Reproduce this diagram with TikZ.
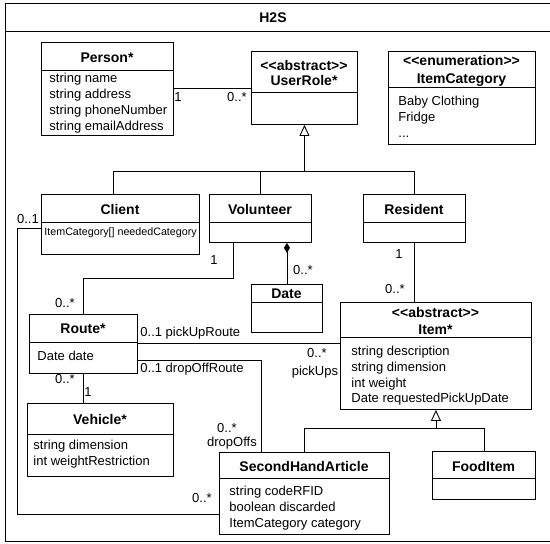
\documentclass[tikz,border=0pt]{standalone}
\usepackage{fontspec}
\setmainfont{Liberation Sans}
\usetikzlibrary{arrows.meta}
\begin{document}
\begin{tikzpicture}[x=1pt,y=-1pt,line width=0.9pt,font=\fontsize{13}{16}\selectfont]
	\tikzset{cls/.style 2 args={draw,anchor=north west,inner sep=0pt,minimum width=#1,minimum height=#2},
		title/.style={anchor=base,inner sep=0pt,font=\fontsize{14}{16}\selectfont\bfseries},
		attr/.style={anchor=base west,inner sep=0pt},
		mult/.style={inner sep=0pt},
		inherit/.style={-{Triangle[open,length=11pt,width=10pt]}},
		compose/.style={{Diamond[length=10pt,width=6pt]}-}}
	\useasboundingbox (0,0) rectangle (550,544);
	\node [cls={565pt}{538pt}]	(pkg) at (5,3)				{};
		\draw (pkg.west |- 0,31) -- (pkg.east |- 0,31);
		\node [title]	(pkgT)	at (273,22)					{H2S};
	\node [cls={132pt}{93pt}]	(person) at (41,42)			{};
		\draw (person.west |- 0,70) -- (person.east |- 0,70);
		\node [title]	(personT)	at (107,62)				{Person*};
		\node [attr]	(personA)	at (49,82)				{string name};
		\node [attr]	(personB)	at (49,98)				{string address};
		\node [attr]	(personC)	at (49,114)				{string phoneNumber};
		\node [attr]	(personD)	at (49,130)				{string emailAddress};
	\node [cls={106pt}{73pt}]	(userrole) at (251,51)		{};
		\draw (userrole.west |- 0,92) -- (userrole.east |- 0,92);
		\node [title]	(userroleS)	at (304,70)				{<{}<abstract>{}>};
		\node [title]	(userroleT)	at (304,85)				{UserRole*};
	\node [cls={147pt}{93pt}]	(category) at (388,51)		{};
		\draw (category.west |- 0,87) -- (category.east |- 0,87);
		\node [title]	(categoryS)	at (461.5,65)			{<{}<enumeration>{}>};
		\node [title]	(categoryT)	at (461.5,83)			{ItemCategory};
		\node [attr]	(categoryA)	at (398,105)			{Baby Clothing};
		\node [attr]	(categoryB)	at (398,121)			{Fridge};
		\node [attr]	(categoryC)	at (398,137)			{...};
	\node [cls={158pt}{60pt}]	(client) at (41,194)		{};
		\draw (client.west |- 0,222) -- (client.east |- 0,222);
		\node [title]	(clientT)	at (120,214)			{Client};
		\node [attr,font=\fontsize{10.7}{12}\selectfont]	(clientA)	at (44,235)	{ItemCategory[] neededCategory};
	\node [cls={102pt}{48pt}]	(volunteer) at (209,194)	{};
		\draw (volunteer.west |- 0,222) -- (volunteer.east |- 0,222);
		\node [title]	(volunteerT)	at (260,214)		{Volunteer};
	\node [cls={102pt}{48pt}]	(resident) at (363,194)		{};
		\draw (resident.west |- 0,222) -- (resident.east |- 0,222);
		\node [title]	(residentT)	at (414,214)			{Resident};
	\node [cls={71pt}{48pt}]	(date) at (251,284)			{};
		\draw (date.west |- 0,302) -- (date.east |- 0,302);
		\node [title]	(dateT)		at (286.5,298)			{Date};
	\node [cls={108pt}{59pt}]	(route) at (29,314)			{};
		\draw (route.west |- 0,342) -- (route.east |- 0,342);
		\node [title]	(routeT)	at (83,333)				{Route*};
		\node [attr]	(routeA)	at (37,360)				{Date date};
	\node [cls={146pt}{73pt}]	(vehicle) at (27,403)		{};
		\draw (vehicle.west |- 0,434) -- (vehicle.east |- 0,434);
		\node [title]	(vehicleT)	at (100,424)			{Vehicle*};
		\node [attr]	(vehicleA)	at (33,449)				{string dimension};
		\node [attr]	(vehicleB)	at (33,465)				{int weightRestriction};
	\node [cls={191pt}{107pt}]	(item) at (340,302)			{};
		\draw (item.west |- 0,337) -- (item.east |- 0,337);
		\node [title]	(itemS)		at (435.5,317)			{<{}<abstract>{}>};
		\node [title]	(itemT)		at (435.5,334)			{Item*};
		\node [attr]	(itemA)		at (351,355)			{string description};
		\node [attr]	(itemB)		at (351,371)			{string dimension};
		\node [attr]	(itemC)		at (351,387)			{int weight};
		\node [attr]	(itemD)		at (351,402)			{Date requestedPickUpDate};
	\node [cls={170pt}{82pt}]	(article) at (219,452)		{};
		\draw (article.west |- 0,478) -- (article.east |- 0,478);
		\node [title]	(articleT)	at (304,471)			{SecondHandArticle};
		\node [attr]	(articleA)	at (229,495)			{string codeRFID};
		\node [attr]	(articleB)	at (229,511)			{boolean discarded};
		\node [attr]	(articleC)	at (229,527)			{ItemCategory category};
	\node [cls={103pt}{48pt}]	(food) at (432,451)			{};
		\draw (food.west |- 0,478) -- (food.east |- 0,478);
		\node [title]	(foodT)		at (483.5,471)			{FoodItem};
	\draw (person.east |- 0,88) -- (userrole.west |- 0,88);
		\node [mult]	(personM)	at (178,97)				{1};
		\node [mult]	(userroleM)	at (237,97)				{0..*};
	\draw (client.north -| 113,0) |- (resident.north |- 0,171) -- (resident.north);
	\draw (volunteer.north) -- (volunteer.north |- 0,171);
	\draw [inherit] (userrole.south |- 0,171) -- (userrole.south);
	\draw [compose] (volunteer.south -| date.north) -- (date.north);
		\node [mult]	(dateM)		at (303,270)			{0..*};
	\draw (volunteer.south -| 233,0) |- (route.north |- 0,278) -- (route.north);
		\node [mult]	(volunteerM)	at (214,260)		{1};
		\node [mult]	(routeM)	at (65,303)				{0..*};
	\draw (resident.south) -- (item.north -| resident.south);
		\node [mult]	(residentM)	at (399,254)			{1};
		\node [mult]	(itemM)		at (395,289)			{0..*};
	\draw (route.east |- 0,343) -- (item.west |- 0,343);
		\node [mult,anchor=west]	(pickUpRoute)	at (140,333)	{0..1 pickUpRoute};
		\node [mult]	(pickUpsM)	at (317,353)			{0..*};
		\node [mult]	(pickUps)	at (315,372)			{pickUps};
	\draw (route.east |- 0,360) -| (article.north -| 261,0);
		\node [mult,anchor=west]	(dropOffRoute)	at (140,369)	{0..1 dropOffRoute};
		\node [mult]	(dropOffsM)	at (227,428)			{0..*};
		\node [mult]	(dropOffs)	at (232,443)			{dropOffs};
	\draw (route.south) -- (vehicle.north -| route.south);
		\node [mult]	(routeV)	at (65,379)				{0..*};
		\node [mult]	(vehicleM)	at (88,392)				{1};
	\draw (client.west |- 0,228) -- ++(-24,0) |- (article.west |- 0,514);
		\node [mult]	(clientM)	at (28,219)				{0..1};
		\node [mult]	(articleM)	at (202,498)			{0..*};
	\draw (article.north) |- (food.north |- 0,428) -- (food.north);
	\draw [inherit] (item.south |- 0,428) -- (item.south);
\end{tikzpicture}
\end{document}
